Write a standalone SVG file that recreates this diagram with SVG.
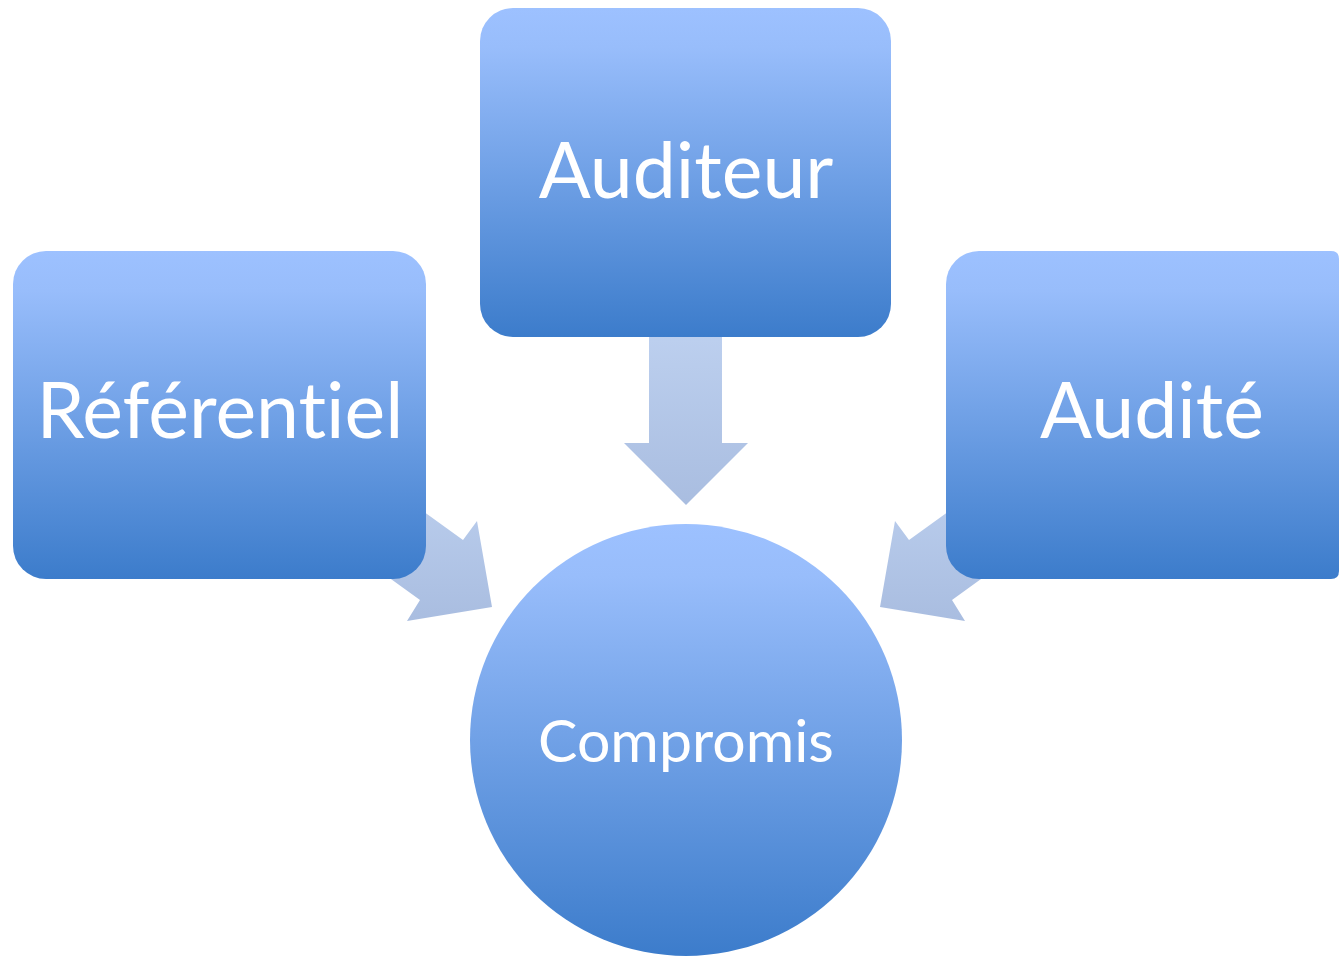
<svg xmlns="http://www.w3.org/2000/svg" width="1339" height="956" viewBox="0 0 1339 956">
<defs>
<linearGradient id="boxg" x1="0" y1="0" x2="0" y2="1">
<stop offset="0" stop-color="#9dc1ff"/>
<stop offset="0.12" stop-color="#98bdfb"/>
<stop offset="1" stop-color="#3c7ccb"/>
</linearGradient>
<linearGradient id="arrg" x1="0" y1="0" x2="0" y2="1">
<stop offset="0" stop-color="#bdd0ef"/>
<stop offset="1" stop-color="#a9bde0"/>
</linearGradient>
<linearGradient id="arrg2" gradientUnits="userSpaceOnUse" x1="0" y1="470" x2="0" y2="622">
<stop offset="0" stop-color="#bdd0ef"/>
<stop offset="1" stop-color="#a9bde0"/>
</linearGradient>
<style>
.box{fill:url(#boxg);}
.arr{fill:url(#arrg2);}
.lbl{font-family:Lato,"Open Sans","Liberation Sans",sans-serif;fill:#ffffff;text-anchor:middle;font-variant-ligatures:none;font-feature-settings:"liga" 0,"clig" 0;}
</style>
</defs>
<rect width="1339" height="956" fill="#ffffff"/>
<g id="connectors">
<polygon fill="url(#arrg)" points="649,330 722,330 722,443 748,443 686,505 624,443 649,443"/>
<polygon class="arr" points="366,470 463,540 477,521 492,607 407,621 420,600 323,530"/>
<polygon class="arr" points="1006,470 909,540 895,521 880,607 965,621 952,600 1049,530"/>
</g>
<g id="node-auditeur">
<rect class="box" x="480" y="8" width="411" height="329" rx="33"/>
<text class="lbl" x="686" y="198" font-size="77">Auditeur</text>
</g>
<g id="node-referentiel">
<rect class="box" x="13" y="251" width="413" height="328" rx="33"/>
<text class="lbl" x="220" y="438" font-size="77">Référentiel</text>
</g>
<g id="node-audite">
<path class="box" d="M979,251 H1331 Q1339,251 1339,259 V571 Q1339,579 1331,579 H979 A33,33 0 0 1 946,546 V284 A33,33 0 0 1 979,251 Z"/>
<text class="lbl" x="1152" y="438" font-size="77">Audité</text>
</g>
<g id="node-compromis">
<circle class="box" cx="686" cy="740" r="216"/>
<text class="lbl" x="686" y="762" font-size="59">Compromis</text>
</g>
</svg>
